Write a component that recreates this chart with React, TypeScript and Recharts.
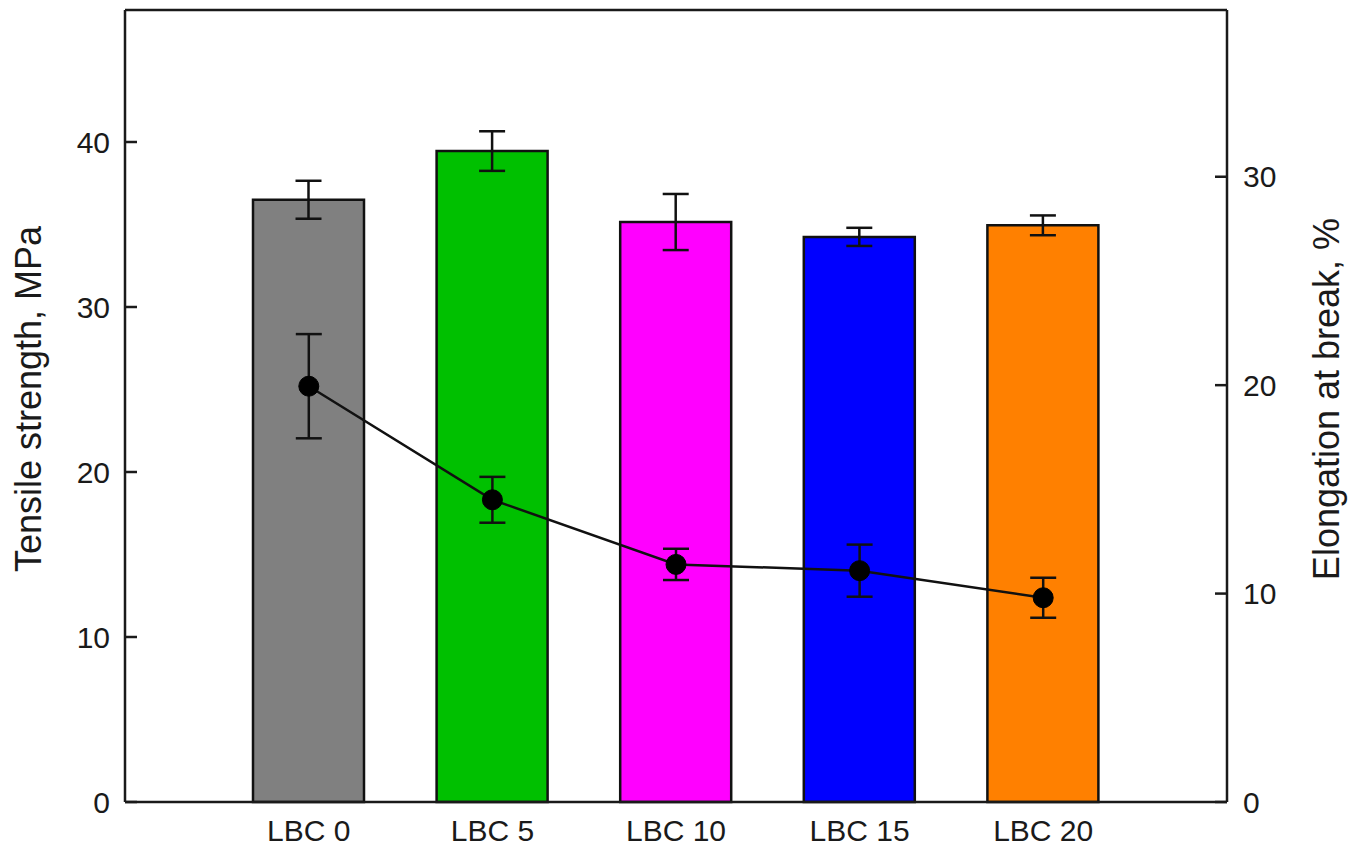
import { ComposedChart, Bar, Line, XAxis, YAxis, Cell, ErrorBar, ReferenceLine } from 'recharts';

const SAMPLES = ['LBC 0', 'LBC 5', 'LBC 10', 'LBC 15', 'LBC 20'];
const TENSILE = [36.5, 39.45, 35.15, 34.25, 34.95];
const TENSILE_ERR = [1.15, 1.2, 1.7, 0.55, 0.6];
const ELONGATION = [19.95, 14.5, 11.4, 11.1, 9.8];
const ELONGATION_ERR = [2.5, 1.1, 0.75, 1.25, 0.96];
const BAR_COLORS = ['#808080', '#00c000', '#ff00ff', '#0000ff', '#ff8000'];

const LEFT_TICKS = [0, 10, 20, 30, 40];
const RIGHT_TICKS = [0, 10, 20, 30];

const FONT = '"Liberation Sans", Arial, sans-serif';
const INK = '#1a1a1a';

const data = SAMPLES.map((name, i) => ({
  name,
  tensile: TENSILE[i],
  tensileErr: TENSILE_ERR[i],
  elong: ELONGATION[i],
  elongErr: ELONGATION_ERR[i],
}));

function AxisTitle({ viewBox, value, side }: any) {
  const x = side === 'left' ? viewBox.x + 28 : viewBox.x + 99;
  const y = viewBox.y + viewBox.height / 2 - 7;
  return (
    <text
      x={x}
      y={y}
      transform={`rotate(-90 ${x} ${y})`}
      textAnchor="middle"
      dominantBaseline="central"
      fontFamily={FONT}
      fontSize={36}
      fill={INK}
    >
      {value}
    </text>
  );
}

export default function App() {
  const tickStyle = { fontFamily: FONT, fontSize: 30, fill: INK };
  const axisLine = { stroke: INK, strokeWidth: 2.5 };
  return (
    <div style={{ position: 'absolute', left: 0, top: 0, background: '#fff' }}>
      <ComposedChart width={1364} height={854} data={data} margin={{ top: 10, right: 0, bottom: 0, left: 0 }}>
        <XAxis
          dataKey="name"
          padding={{ left: 92, right: 92 }}
          height={52}
          tickLine={false}
          tickSize={0}
          tickMargin={18}
          tick={tickStyle}
          axisLine={axisLine}
        />
        <YAxis
          yAxisId="left"
          width={125}
          domain={[0, 48]}
          ticks={LEFT_TICKS}
          interval={0}
          tickSize={-12}
          tickMargin={27}
          tick={tickStyle}
          tickLine={axisLine}
          axisLine={axisLine}
          label={(p: any) => <AxisTitle {...p} value="Tensile strength, MPa" side="left" />}
        />
        <YAxis
          yAxisId="right"
          orientation="right"
          width={137}
          domain={[0, 38]}
          ticks={RIGHT_TICKS}
          interval={0}
          tickSize={-12}
          tickMargin={28}
          tick={tickStyle}
          tickLine={axisLine}
          axisLine={axisLine}
          label={(p: any) => <AxisTitle {...p} value="Elongation at break, %" side="right" />}
        />
        <ReferenceLine yAxisId="left" y={48} stroke={INK} strokeWidth={2.5} />
        <Bar yAxisId="left" dataKey="tensile" barSize={111} stroke="#111" strokeWidth={2.5} isAnimationActive={false}>
          {data.map((d, i) => (
            <Cell key={d.name} fill={BAR_COLORS[i]} />
          ))}
          <ErrorBar dataKey="tensileErr" width={13} stroke="#111" strokeWidth={2.5} />
        </Bar>
        <Line
          yAxisId="right"
          dataKey="elong"
          type="linear"
          stroke="#111"
          strokeWidth={2.5}
          dot={{ r: 10, fill: '#000', stroke: '#000', strokeWidth: 1 }}
          activeDot={false}
          isAnimationActive={false}
        >
          <ErrorBar dataKey="elongErr" width={13} stroke="#111" strokeWidth={2.5} />
        </Line>
      </ComposedChart>
    </div>
  );
}
